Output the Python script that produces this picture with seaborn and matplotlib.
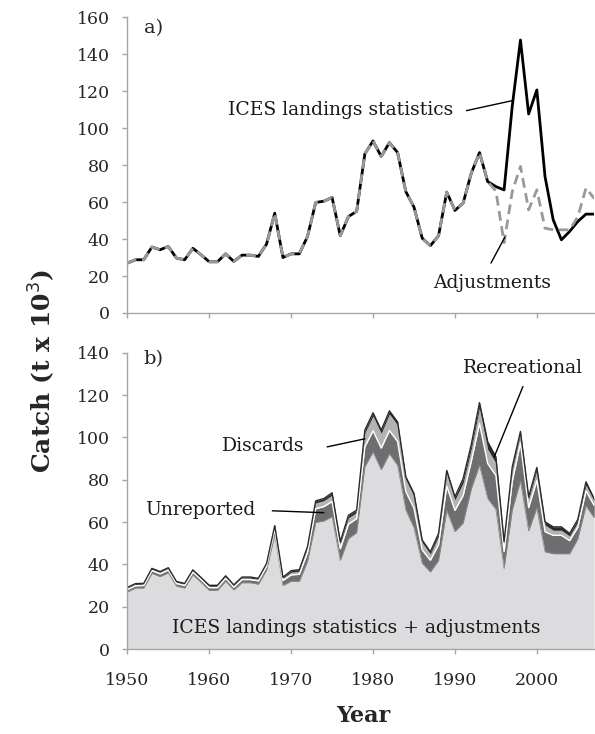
import matplotlib
matplotlib.use("Agg")
import matplotlib.pyplot as plt
import numpy as np
import pandas as pd
import seaborn as sns

# catch data, thousand tonnes, 1950-2007
years = list(range(1950, 2008))

ices_landings = [
    27.0, 28.8, 28.8, 35.7, 34.2, 36.0, 29.7, 28.8, 35.0, 31.5,
    27.7, 27.7, 32.0, 27.9, 31.3, 31.3, 30.6, 37.3, 54.0, 30.0,
    32.0, 32.0, 41.4, 59.8, 60.5, 62.5, 41.8, 52.2, 55.0, 86.1,
    93.1, 84.7, 92.2, 86.8, 65.7, 57.3, 40.5, 36.4, 41.8, 65.4,
    55.5, 59.5, 75.7, 86.8, 71.1, 68.4, 66.6, 112.0, 147.7, 107.7,
    120.7, 73.8, 50.4, 39.6, 44.1, 49.5, 53.5, 53.5,
]

ices_adjusted = [
    27.0, 28.8, 28.8, 35.7, 34.2, 36.0, 29.7, 28.8, 35.0, 31.5,
    27.7, 27.7, 32.0, 27.9, 31.3, 31.3, 30.6, 37.3, 54.0, 30.0,
    32.0, 32.0, 41.4, 59.8, 60.5, 62.5, 41.8, 52.2, 55.0, 86.1,
    93.1, 84.7, 92.2, 86.8, 65.7, 57.3, 40.5, 36.4, 41.8, 65.4,
    55.5, 59.5, 75.7, 86.8, 71.1, 66.0, 38.0, 65.7, 79.3, 55.8,
    66.6, 45.9, 45.0, 45.0, 45.0, 52.0, 67.6, 62.0,
]

unreported = [
    1.1, 1.1, 1.2, 1.3, 1.3, 1.3, 1.2, 1.2, 1.3, 1.3,
    1.3, 1.3, 1.4, 1.3, 1.5, 1.5, 1.6, 1.8, 2.6, 2.4,
    3.0, 3.3, 4.2, 6.5, 6.8, 7.2, 5.5, 6.8, 6.6, 9.5,
    10.0, 10.2, 11.0, 11.2, 8.7, 9.2, 6.3, 5.5, 7.5, 11.5,
    10.0, 13.0, 13.0, 19.7, 16.5, 16.0, 8.0, 13.5, 18.0, 11.0,
    13.0, 9.5, 8.7, 8.7, 6.2, 5.5, 7.1, 5.8,
]

discards = [
    0.6, 0.6, 0.6, 0.7, 0.7, 0.7, 0.6, 0.6, 0.7, 0.6,
    0.6, 0.6, 0.7, 0.6, 0.7, 0.7, 0.7, 0.8, 1.2, 1.0,
    1.3, 1.4, 2.0, 2.7, 2.8, 3.0, 2.4, 3.0, 2.9, 6.5,
    7.0, 7.0, 7.8, 7.8, 5.7, 5.7, 3.5, 3.0, 4.0, 6.0,
    5.0, 6.0, 6.0, 7.5, 6.8, 5.9, 3.5, 5.5, 4.4, 4.0,
    4.8, 3.2, 2.4, 2.4, 2.2, 2.4, 2.8, 2.3,
]

recreational = [
    0.4, 0.4, 0.4, 0.4, 0.4, 0.4, 0.4, 0.4, 0.4, 0.4,
    0.5, 0.5, 0.5, 0.5, 0.5, 0.5, 0.5, 0.5, 0.5, 0.5,
    0.7, 0.8, 0.8, 1.0, 1.0, 1.1, 1.0, 1.2, 1.1, 1.3,
    1.5, 1.5, 1.5, 1.5, 1.3, 1.3, 1.2, 1.0, 1.3, 1.5,
    1.4, 2.0, 2.0, 2.4, 3.5, 2.9, 1.2, 1.4, 1.1, 1.1,
    1.4, 1.5, 1.6, 1.6, 1.2, 1.3, 1.5, 0.9,
]

sns.set_theme(style="white")
plt.rcParams["font.family"] = ["DejaVu Serif"]

df = pd.DataFrame({
    "year": years,
    "ices": ices_landings,
    "adjusted": ices_adjusted,
    "unreported": unreported,
    "discards": discards,
    "recreational": recreational,
})
df["lvl1"] = df["adjusted"] + df["unreported"]
df["lvl2"] = df["lvl1"] + df["discards"]
df["lvl3"] = df["lvl2"] + df["recreational"]

fig = plt.figure(figsize=(5.95, 7.34), dpi=100)
ax_a = fig.add_axes([0.214, 0.5736, 0.7846, 0.4028])
ax_b = fig.add_axes([0.214, 0.1158, 0.7846, 0.4037])

axis_grey = "#a6a6a6"
txt_kw = dict(fontsize=13.5, color="#1a1a1a")
line_kw = dict(color="black", lw=1.0)

# panel a
sns.lineplot(data=df, x="year", y="ices", ax=ax_a, color="black", lw=2.0)
sns.lineplot(data=df, x="year", y="adjusted", ax=ax_a, color="#999999",
             lw=2.0, dashes=False)
ax_a.lines[-1].set_dashes([3.5, 2.0])
ax_a.set_ylim(0, 160)
ax_a.set_yticks(np.arange(0, 161, 20))

ax_a.text(1952, 154, "a)", fontsize=14, va="center", ha="left")
ax_a.text(1976, 110, "ICES landings statistics", ha="center", va="center", **txt_kw)
ax_a.plot([1991.4, 1997.0], [109.5, 114.9], **line_kw)
ax_a.text(1994.5, 16.0, "Adjustments", ha="center", va="center", **txt_kw)
ax_a.plot([1994.4, 1996.1], [27.0, 41.1], **line_kw)

# panel b stacked areas
x = df["year"]
ax_b.fill_between(x, 0, df["adjusted"], color="#dcdcde", lw=0)
ax_b.fill_between(x, df["adjusted"], df["lvl1"], color="#6e6e70", lw=0)
ax_b.fill_between(x, df["lvl1"], df["lvl2"], color="#b3b3b5", lw=0)
ax_b.fill_between(x, df["lvl2"], df["lvl3"], color="#2a2a2a", lw=0)
sns.lineplot(data=df, x="year", y="adjusted", ax=ax_b, color="#8a8a8a", lw=0.6)
sns.lineplot(data=df, x="year", y="lvl1", ax=ax_b, color="white", lw=1.0)
sns.lineplot(data=df, x="year", y="lvl3", ax=ax_b, color="#2a2a2a", lw=1.0)
ax_b.set_ylim(0, 140)
ax_b.set_yticks(np.arange(0, 141, 20))

ax_b.text(1952, 137, "b)", fontsize=14, va="center", ha="left")
ax_b.text(1966.6, 95.8, "Discards", ha="center", va="center", **txt_kw)
ax_b.plot([1974.4, 1979.0], [95.5, 99.3], **line_kw)
ax_b.text(1958.9, 65.6, "Unreported", ha="center", va="center", **txt_kw)
ax_b.plot([1967.7, 1974.0], [65.3, 64.4], **line_kw)
ax_b.text(1998.3, 133, "Recreational", ha="center", va="center", **txt_kw)
ax_b.plot([1998.3, 1994.8], [124.0, 90.8], **line_kw)
ax_b.text(1978, 10, "ICES landings statistics + adjustments",
          ha="center", va="center", **txt_kw)

for ax in (ax_a, ax_b):
    ax.set_xlim(1950, 2007)
    ax.set_xticks(np.arange(1950, 2001, 10))
    ax.set_xlabel("")
    ax.set_ylabel("")
    sns.despine(ax=ax)
    for side in ("left", "bottom"):
        ax.spines[side].set_color(axis_grey)
        ax.spines[side].set_linewidth(1.0)
    ax.tick_params(axis="both", direction="out", length=3.5, width=1.0,
                   color=axis_grey, labelsize=12.5, left=True, bottom=True)
    ax.tick_params(axis="y", pad=9)
    ax.tick_params(axis="x", pad=13)

ax_a.set_xticklabels([])

fig.text(0.07, 0.495, "Catch (t x 10$^3$)", rotation=90, ha="center",
         va="center", fontsize=18, fontweight="bold")
fig.text(0.61, 0.024, "Year", ha="center", va="center", fontsize=16,
         fontweight="bold")

fig.savefig("out.png", dpi=100, facecolor="white")
